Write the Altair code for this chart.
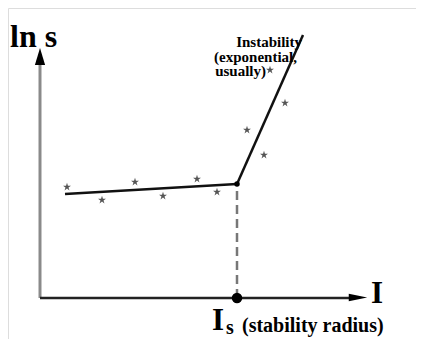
import altair as alt
import pandas as pd

# Coordinate system: I (x) and ln s (y), origin at the axes' crossing
stab_I = 197          # stability radius I_s
kink_ln = 114
flat_I = [25, 197]
flat_ln = [104, 114]
steep_I = [197, 263]
steep_ln = [114, 263]
star_I = [27, 62, 95, 123, 157, 177, 207, 224, 245, 230]
star_ln = [111, 98, 116, 102, 119, 106, 168, 143, 195, 228]

W, H = 408, 331
xs = alt.Scale(domain=[-32, 376], range=[0, W])
ys = alt.Scale(domain=[-41, 290], range=[H, 0])

def X(f="x"):
    return alt.X(f"{f}:Q", scale=xs, axis=None)

def Y(f="y"):
    return alt.Y(f"{f}:Q", scale=ys, axis=None)

FONT = "'Liberation Serif', 'Times New Roman', 'DejaVu Serif', serif"

# axes
yaxis = alt.Chart(pd.DataFrame({"x": [0], "y": [0], "y2": [235]})).mark_rule(
    color="#8a8a8a", strokeWidth=3).encode(x=X(), y=Y(), y2="y2:Q")
xaxis = alt.Chart(pd.DataFrame({"x": [0], "x2": [312], "y": [0]})).mark_rule(
    color="#222222", strokeWidth=2.5).encode(x=X(), x2="x2:Q", y=Y())
yarrow = alt.Chart(pd.DataFrame({"x": [0], "y": [241.5]})).mark_point(
    shape="M0,-1 L0.6,1 L-0.6,1 Z", filled=True, color="black", opacity=1, size=289
).encode(x=X(), y=Y())
xarrow = alt.Chart(pd.DataFrame({"x": [318], "y": [0.5]})).mark_point(
    shape="M1,0 L-1,-0.42 L-1,0.42 Z", filled=True, color="black", opacity=1, size=340
).encode(x=X(), y=Y())

# dashed drop line
dash = alt.Chart(pd.DataFrame({"x": [stab_I], "y": [0], "y2": [kink_ln]})).mark_rule(
    color="#777777", strokeWidth=2.5, strokeDash=[9, 5]).encode(x=X(), y=Y(), y2="y2:Q")

flat = alt.Chart(pd.DataFrame({"x": flat_I, "y": flat_ln})).mark_line(
    color="#111111", strokeWidth=2.5).encode(x=X(), y=Y())
steep = alt.Chart(pd.DataFrame({"x": steep_I, "y": steep_ln})).mark_line(
    color="#111111", strokeWidth=2.5).encode(x=X(), y=Y())

stars = alt.Chart(pd.DataFrame({"x": star_I, "y": star_ln})).mark_point(
    shape="M0,-1 L0.225,-0.309 L0.951,-0.309 L0.363,0.118 L0.588,0.809 L0,0.382 L-0.588,0.809 L-0.363,0.118 L-0.951,-0.309 L-0.225,-0.309 Z",
    filled=True, color="#555555", opacity=1, size=70).encode(x=X(), y=Y())

kink = alt.Chart(pd.DataFrame({"x": [stab_I], "y": [kink_ln]})).mark_point(
    shape="circle", filled=True, color="black", opacity=1, size=30).encode(x=X(), y=Y())
sdot = alt.Chart(pd.DataFrame({"x": [stab_I], "y": [0]})).mark_point(
    shape="circle", filled=True, color="black", opacity=1, size=110).encode(x=X(), y=Y())

def label(text, x, y, size, align="left"):
    return alt.Chart(pd.DataFrame({"x": [x], "y": [y], "t": [text]})).mark_text(
        font=FONT, fontWeight="bold", fontSize=size, align=align, baseline="alphabetic",
        color="black").encode(x=X(), y=Y(), text="t:N")

texts = [
    label("ln s", -30, 251, 32),
    label("I", 331, -5, 31),
    label("I", 172, -32, 31),
    label("s", 186, -36, 20),
    label("(stability radius)", 202, -34, 20),
    label("Instability", 262, 251, 15, "right"),
    label("(exponential,", 257, 236.5, 15, "right"),
    label("usually)", 226, 222, 15, "right"),
]

chart = alt.layer(yaxis, xaxis, yarrow, xarrow, dash, flat, steep, stars, kink, sdot, *texts).properties(
    width=W, height=H, padding=0, autosize=alt.AutoSizeParams(type="none")
).configure_view(stroke=None).configure(background="white")

chart.save("out.html", embed_options={"renderer": "svg", "actions": False})
